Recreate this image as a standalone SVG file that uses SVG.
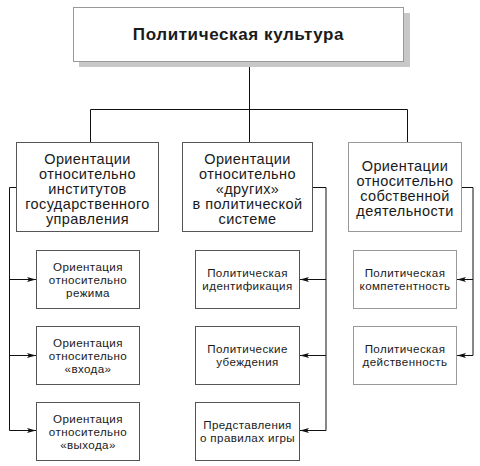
<svg xmlns="http://www.w3.org/2000/svg" width="480" height="466" viewBox="0 0 480 466">
<style>
text{font-family:"Liberation Sans",Arial,sans-serif;fill:#1a1a1a;text-anchor:middle}
.t1{font-size:17px;font-weight:bold;letter-spacing:0.6px}
.t2{font-size:14.5px;letter-spacing:0.4px}
.t3{font-size:11.6px;letter-spacing:0.4px}
.box{fill:#fff;stroke:#555;stroke-width:1}
.boxl{fill:#fff;stroke:#999;stroke-width:1}
.con{fill:none;stroke:#111;stroke-width:1}
</style>
<defs>
<marker id="arr" markerUnits="userSpaceOnUse" markerWidth="10" markerHeight="8" refX="9" refY="4" orient="auto">
<path d="M0,1.5 L9,4 L0,6.5 L2,4 Z" fill="#111"/>
</marker>
</defs>
<rect width="480" height="466" fill="#fff"/>
<g id="connectors">
<path class="con" d="M249.5,61 V109.5 M90.5,143 V109.5 H407.5 V143 M249.5,109.5 V143"/>
<path class="con" d="M16.5,187.5 H9.5 V430.5"/>
<path class="con" d="M9.5,279.5 H36" marker-end="url(#arr)"/>
<path class="con" d="M9.5,355.5 H36" marker-end="url(#arr)"/>
<path class="con" d="M9.5,430.5 H36" marker-end="url(#arr)"/>
<path class="con" d="M312.5,187.5 H326 V430.5"/>
<path class="con" d="M326,279.5 H300" marker-end="url(#arr)"/>
<path class="con" d="M326,355.5 H300" marker-end="url(#arr)"/>
<path class="con" d="M326,430.5 H300" marker-end="url(#arr)"/>
<path class="con" d="M461.5,187.5 H473 V355.5"/>
<path class="con" d="M473,279.5 H457" marker-end="url(#arr)"/>
<path class="con" d="M473,355.5 H457" marker-end="url(#arr)"/>
</g>
<g id="root">
<rect x="79" y="13" width="331" height="54" fill="#c8c8c8"/>
<rect x="73.5" y="7.5" width="330" height="54" fill="#fff" stroke="#999"/>
<text class="t1" x="238.5" y="39.5">Политическая культура</text>
</g>
<g id="institutions">
<rect class="box" x="16.5" y="142.5" width="142" height="89"/>
<text class="t2" x="87.5" y="163.5">Ориентации<tspan x="87.5" dy="15">относительно</tspan><tspan x="87.5" dy="15">институтов</tspan><tspan x="87.5" dy="15">государственного</tspan><tspan x="87.5" dy="15">управления</tspan></text>
</g>
<g id="others">
<rect class="box" x="182.5" y="142.5" width="130" height="89"/>
<text class="t2" x="247.5" y="163.5">Ориентации<tspan x="247.5" dy="15">относительно</tspan><tspan x="247.5" dy="15">«других»</tspan><tspan x="247.5" dy="15">в политической</tspan><tspan x="247.5" dy="15">системе</tspan></text>
</g>
<g id="self">
<rect class="boxl" x="348.5" y="142.5" width="113" height="89"/>
<text class="t2" x="405" y="171">Ориентации<tspan x="405" dy="15">относительно</tspan><tspan x="405" dy="15">собственной</tspan><tspan x="405" dy="15">деятельности</tspan></text>
</g>
<g id="regime">
<rect class="box" x="36.5" y="250.5" width="103" height="58"/>
<text class="t3" x="88" y="270.5">Ориентация<tspan x="88" dy="13">относительно</tspan><tspan x="88" dy="13">режима</tspan></text>
</g>
<g id="input">
<rect class="box" x="36.5" y="326.5" width="103" height="58"/>
<text class="t3" x="88" y="346.5">Ориентация<tspan x="88" dy="13">относительно</tspan><tspan x="88" dy="13">«входа»</tspan></text>
</g>
<g id="output">
<rect class="box" x="36.5" y="402.5" width="103" height="58"/>
<text class="t3" x="88" y="422.5">Ориентация<tspan x="88" dy="13">относительно</tspan><tspan x="88" dy="13">«выхода»</tspan></text>
</g>
<g id="identification">
<rect class="box" x="195.5" y="250.5" width="104" height="58"/>
<text class="t3" x="247.5" y="277">Политическая<tspan x="247.5" dy="13">идентификация</tspan></text>
</g>
<g id="beliefs">
<rect class="box" x="195.5" y="326.5" width="104" height="58"/>
<text class="t3" x="247.5" y="353">Политические<tspan x="247.5" dy="13">убеждения</tspan></text>
</g>
<g id="rules">
<rect class="box" x="195.5" y="402.5" width="104" height="58"/>
<text class="t3" x="247.5" y="429">Представления<tspan x="247.5" dy="13">о правилах игры</tspan></text>
</g>
<g id="competence">
<rect class="boxl" x="353.5" y="250.5" width="103" height="58"/>
<text class="t3" x="405" y="277">Политическая<tspan x="405" dy="13">компетентность</tspan></text>
</g>
<g id="efficacy">
<rect class="boxl" x="353.5" y="326.5" width="103" height="58"/>
<text class="t3" x="405" y="353">Политическая<tspan x="405" dy="13">действенность</tspan></text>
</g>
</svg>
